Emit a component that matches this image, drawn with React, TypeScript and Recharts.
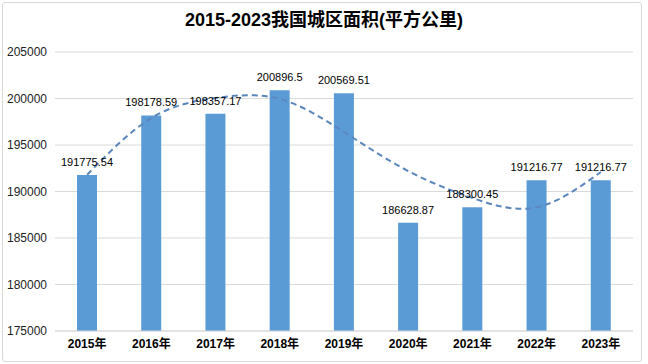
import React from "react";
import { ComposedChart, Bar, Line, XAxis, YAxis, CartesianGrid, LabelList } from "recharts";

const categories = ["2015年", "2016年", "2017年", "2018年", "2019年", "2020年", "2021年", "2022年", "2023年"];
const areaValues = [191775.54, 198178.59, 198357.17, 200896.5, 200569.51, 186628.87, 188300.45, 191216.77, 191216.77];
const trendValues = [191800, 197900, 200050, 199950, 196400, 192200, 189300, 188300, 192100];
const yTicks = [175000, 180000, 185000, 190000, 195000, 200000, 205000];
const title = "2015-2023我国城区面积(平方公里)";

const data = categories.map((c, i) => ({ name: c, value: areaValues[i], trend: trendValues[i] }));

const FONT = '"Liberation Sans", Arial, "Noto Sans CJK SC", sans-serif';

export default function App() {
  return (
    <div style={{ position: "absolute", left: 0, top: 0, width: 648, height: 364, background: "#fff", fontFamily: FONT }}>
      <div style={{ position: "absolute", left: 2, top: 2, width: 638, height: 358, border: "1px solid #D9D9D9", borderRadius: 3 }} />
      <div style={{ position: "absolute", left: 0, top: 8, width: 648, textAlign: "center", fontSize: 18, fontWeight: "bold", color: "#000", lineHeight: "24px" }}>
        {title}
      </div>
      <div style={{ position: "absolute", left: 0, top: 0 }}>
        <ComposedChart width={648} height={364} data={data} margin={{ top: 52, right: 15, left: 0, bottom: 0 }}>
          <CartesianGrid vertical={false} stroke="#D9D9D9" />
          <XAxis
            dataKey="name"
            height={33}
            tickLine={false}
            axisLine={{ stroke: "#D9D9D9" }}
            tick={{ fontSize: 12, fontWeight: "bold", fill: "#000", fontFamily: FONT }}
            interval={0}
          />
          <YAxis
            width={55}
            domain={[175000, 205000]}
            ticks={yTicks}
            axisLine={false}
            tickLine={false}
            tick={{ fontSize: 12, fill: "#222", fontFamily: FONT }}
            interval={0}
          />
          <Bar dataKey="value" fill="#5B9BD5" barSize={20} isAnimationActive={false}>
            <LabelList dataKey="value" position="top" offset={9} style={{ fontSize: 11, fill: "#000", fontFamily: FONT }} />
          </Bar>
          <Line
            dataKey="trend"
            type="natural"
            stroke="#5A86BE"
            strokeWidth={2}
            strokeDasharray="6 4"
            dot={false}
            activeDot={false}
            isAnimationActive={false}
          />
        </ComposedChart>
      </div>
    </div>
  );
}
